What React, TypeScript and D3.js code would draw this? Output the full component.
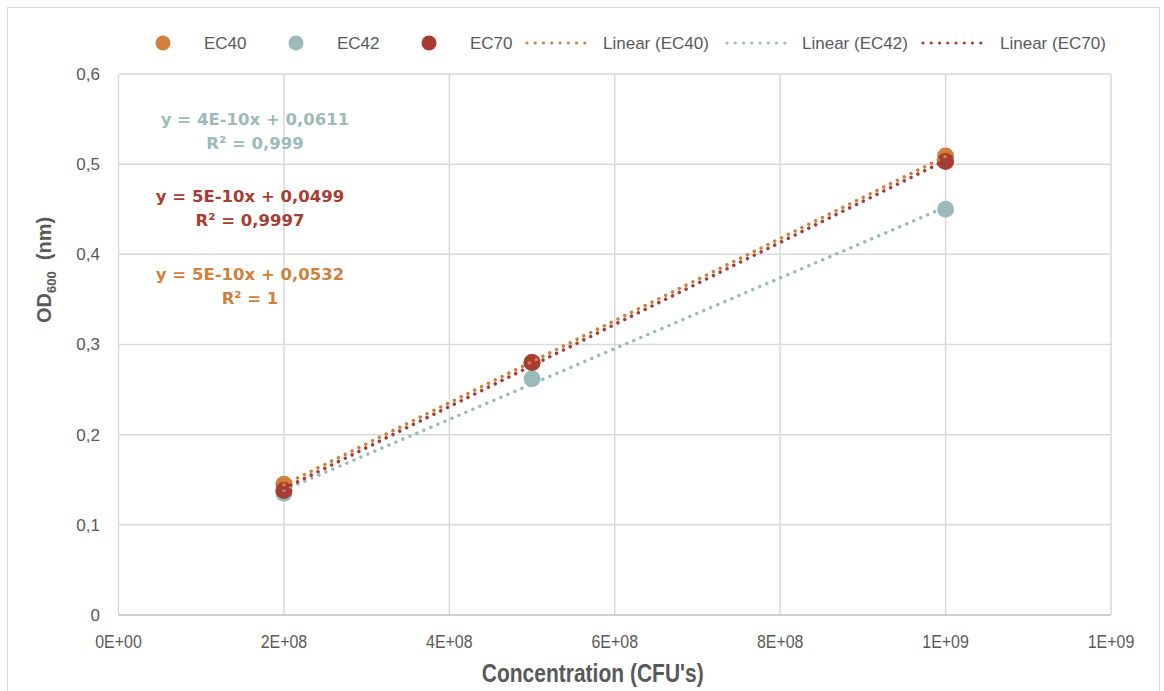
import React from 'react'
import * as d3 from 'd3'

// data
const concentration = [2e8, 5e8, 1e9]
const ec40 = [0.145, 0.28, 0.509]
const ec42 = [0.135, 0.262, 0.45]
const ec70 = [0.138, 0.28, 0.503]

const seriesNames = ['EC40', 'EC42', 'EC70']
const seriesColors = ['#D0803B', '#9BBAB9', '#A83C33']

const xTicks = [0, 2e8, 4e8, 6e8, 8e8, 1e9, 1.2e9]
const xTickLabels = ['0E+00', '2E+08', '4E+08', '6E+08', '8E+08', '1E+09', '1E+09']
const yTicks = [0, 0.1, 0.2, 0.3, 0.4, 0.5, 0.6]
const yTickLabels = ['0', '0,1', '0,2', '0,3', '0,4', '0,5', '0,6']

const equations = ['y = 5E-10x + 0,0532', 'y = 4E-10x + 0,0611', 'y = 5E-10x + 0,0499']
const rSquared = ['R² = 1', 'R² = 0,999', 'R² = 0,9997']

const W = 1164
const H = 691
const labelFont = "'Liberation Sans', Arial, sans-serif"
const eqFont = "'DejaVu Sans', sans-serif"
const textGray = '#595959'

function fit (xs: number[], ys: number[]) {
  const mx = d3.mean(xs) as number
  const my = d3.mean(ys) as number
  let sxy = 0
  let sxx = 0
  xs.forEach((x, i) => {
    sxy += (x - mx) * (ys[i] - my)
    sxx += (x - mx) * (x - mx)
  })
  const slope = sxy / sxx
  return { slope, intercept: my - slope * mx }
}

export default function App () {
  const x = d3.scaleLinear().domain([0, 1.2e9]).range([118.5, 1111])
  const y = d3.scaleLinear().domain([0, 0.6]).range([615, 74])

  const series = [ec40, ec42, ec70].map((vals, i) => ({
    name: seriesNames[i],
    color: seriesColors[i],
    points: vals.map((v, j) => ({ cx: concentration[j], cy: v })),
    trend: fit(concentration, vals)
  }))

  const xMin = d3.min(concentration) as number
  const xMax = d3.max(concentration) as number

  // equation label positions (layout)
  const eqPos = [
    { cx: 250, cy: 274 },
    { cx: 255, cy: 119 },
    { cx: 250, cy: 196 }
  ]

  // legend layout
  const markerLegend = [
    { mx: 163, tx: 204 },
    { mx: 296, tx: 337 },
    { mx: 429, tx: 470 }
  ]
  const lineLegend = [
    { x0: 527, x1: 593, tx: 603 },
    { x0: 727, x1: 792, tx: 802 },
    { x0: 923, x1: 989, tx: 1000 }
  ]
  const legendY = 43
  const narrow = 0.84

  return (
    <svg width={W} height={H} style={{ position: 'absolute', left: 0, top: 0, background: '#fff' }}>
      <rect x={7.5} y={7.5} width={1152} height={700} fill='#fff' stroke='#d9d9d9' strokeWidth={1} />

      {/* gridlines */}
      {yTicks.slice(1).map(t => (
        <line key={'gy' + t} x1={x(0)} x2={x(1.2e9)} y1={y(t)} y2={y(t)} stroke='#d9d9d9' strokeWidth={1.5} />
      ))}
      {xTicks.map(t => (
        <line key={'gx' + t} x1={x(t)} x2={x(t)} y1={y(0)} y2={y(0.6)} stroke='#d9d9d9' strokeWidth={1.5} />
      ))}
      <line x1={x(0)} x2={x(1.2e9)} y1={y(0)} y2={y(0)} stroke='#bfbfbf' strokeWidth={1.5} />

      {/* tick labels */}
      {yTicks.map((t, i) => (
        <text key={'yl' + t} x={100} y={y(t)} dy='0.35em' textAnchor='end'
          fontFamily={labelFont} fontSize={17} fill={textGray}>{yTickLabels[i]}</text>
      ))}
      {xTicks.map((t, i) => (
        <text key={'xl' + t} transform={`translate(${x(t)},641) scale(${narrow},1)`} dy='0.35em' textAnchor='middle'
          fontFamily={labelFont} fontSize={19} fill={textGray}>{xTickLabels[i]}</text>
      ))}

      {/* axis titles */}
      <text transform={`translate(${(x(0) + x(1.2e9)) / 2 - 22},673) scale(${narrow},1)`} dy='0.35em' textAnchor='middle'
        fontFamily={labelFont} fontWeight='bold' fontSize={25} fill={textGray}>Concentration (CFU's)</text>
      <text transform='translate(44,270) rotate(-90)' textAnchor='middle' dy='0.35em'
        fontFamily={labelFont} fontWeight='bold' fontSize={20} fill={textGray}>
        OD<tspan fontSize={13} dy={5}>600</tspan><tspan dy={-5}>{'\u00a0 (nm)'}</tspan>
      </text>

      {/* markers */}
      {series.map(s => (
        <g key={'m' + s.name}>
          {s.points.map((p, j) => (
            <circle key={j} cx={x(p.cx)} cy={y(p.cy)} r={8.5} fill={s.color} />
          ))}
        </g>
      ))}

      {/* trendlines */}
      {series.map(s => (
        <path key={'t' + s.name}
          d={d3.line()([[x(xMin), y(s.trend.slope * xMin + s.trend.intercept)], [x(xMax), y(s.trend.slope * xMax + s.trend.intercept)]]) as string}
          fill='none' stroke={s.color} strokeWidth={3.5} strokeLinecap='round' strokeDasharray='0.01 7.6' />
      ))}

      {/* equation labels */}
      {series.map((s, i) => (
        <g key={'eq' + s.name} fontFamily={eqFont} fontWeight='bold' fontSize={16.5} fill={s.color} textAnchor='middle'>
          <text x={eqPos[i].cx} y={eqPos[i].cy} dy='0.35em'>{equations[i]}</text>
          <text x={eqPos[i].cx} y={eqPos[i].cy + 24} dy='0.35em'>{rSquared[i]}</text>
        </g>
      ))}

      {/* legend */}
      {series.map((s, i) => (
        <g key={'lg' + s.name}>
          <circle cx={markerLegend[i].mx} cy={legendY} r={7.5} fill={s.color} />
          <text x={markerLegend[i].tx} y={legendY} dy='0.35em' fontFamily={labelFont} fontSize={17} fill={textGray}>{s.name}</text>
        </g>
      ))}
      {series.map((s, i) => (
        <g key={'ll' + s.name}>
          <line x1={lineLegend[i].x0} x2={lineLegend[i].x1} y1={legendY} y2={legendY}
            stroke={s.color} strokeWidth={3.2} strokeLinecap='round' strokeDasharray='0.01 8.25' />
          <text x={lineLegend[i].tx} y={legendY} dy='0.35em' fontFamily={labelFont} fontSize={17} fill={textGray}>{'Linear (' + s.name + ')'}</text>
        </g>
      ))}
    </svg>
  )
}
